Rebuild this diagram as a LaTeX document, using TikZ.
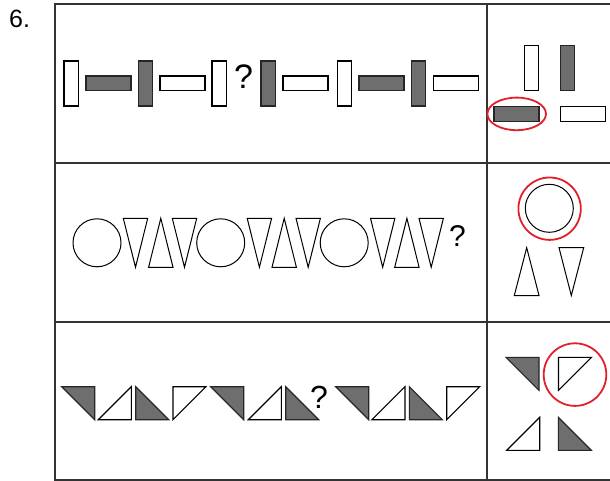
\documentclass[tikz,border=0pt]{standalone}
\usepackage{fontspec}
\setmainfont{Liberation Sans}
\definecolor{shade}{HTML}{6E6E6E}
\definecolor{mark}{HTML}{E3202A}
\tikzset{
  grid/.style={line width=1.3pt, draw=black!80},
  wbox/.style={draw=black, line width=1.1pt, fill=white},
  gbox/.style={draw=black!85, line width=1.1pt, fill=shade},
  outl/.style={draw=black, line width=1pt},
  ring/.style={draw=mark, line width=1.8pt},
  qm/.style={inner sep=0pt, anchor=center}
}
\begin{document}
\begin{tikzpicture}[x=1pt,y=-1pt]
\useasboundingbox (0,0) rectangle (610,481);
\fill[white] (0,0) rectangle (610,481);
% label
\node[anchor=base west, inner sep=0pt, font=\fontsize{25}{25}\selectfont] (num) at (9,28) {6.};
% table
\draw[grid] (612,4) -- (55,4) -- (55,480) -- (612,480);
\draw[grid] (55,163) -- (612,163);
\draw[grid] (55,322) -- (612,322);
\draw[grid] (487,4) -- (487,480);
% ---------- row 1 ----------
\def\V#1#2{\path[#2] (#1,61) rectangle ++(14.6,45);}
\def\H#1#2{\path[#2] (#1,76) rectangle ++(45,14.6);}
\V{64}{wbox} \H{86}{gbox} \V{138.3}{gbox} \H{160}{wbox} \V{212}{wbox}
\node[qm, font=\fontsize{34}{34}\selectfont] (q1) at (243.5,77) {?};
\V{261}{gbox} \H{283}{wbox} \V{337.3}{wbox} \H{359}{gbox} \V{411.3}{gbox} \H{433.3}{wbox}
% answers row 1
\path[wbox] (524.3,45.7) rectangle ++(14.6,45);
\path[gbox] (560.3,45.7) rectangle ++(14.6,45);
\path[gbox] (494,106.7) rectangle ++(45,14.6);
\path[wbox] (560.3,106.7) rectangle ++(45,14.6);
\draw[ring] (516.7,113.9) ellipse [x radius=29.3, y radius=16.3];
% ---------- row 2 ----------
\def\C#1{\draw[outl] (#1,242.8) circle [radius=24];}
\def\D#1{\draw[outl] (#1,218.3) -- ++(24.4,0) -- ++(-12.2,49) -- cycle;}
\def\U#1{\draw[outl] (#1,267.3) -- ++(24.4,0) -- ++(-12.2,-49) -- cycle;}
\C{97} \D{123.3} \U{148.6} \D{172.3}
\C{220.7} \D{247.2} \U{272} \D{296}
\C{344.2} \D{370.5} \U{394.7} \D{419}
\node[qm, font=\fontsize{30}{30}\selectfont] (q2) at (457.5,236.5) {?};
% answers row 2
\draw[outl] (549.3,208.3) circle [radius=24];
\draw[ring] (549.6,208.7) circle [radius=31.2];
\draw[outl] (514.3,295.5) -- (539,295.5) -- (526.7,247.7) -- cycle;
\draw[outl] (559,247.7) -- (583.7,247.7) -- (571.3,295.5) -- cycle;
% ---------- row 3 ----------
\def\TA#1#2{\path[gbox, line join=miter] (#1,#2) -- ++(33,0) -- ++(0,33) -- cycle;}
\def\TB#1#2{\path[wbox] (#1,#2+33) -- ++(33,0) -- ++(0,-33) -- cycle;}
\def\TC#1#2{\path[gbox] (#1,#2) -- ++(0,33) -- ++(33,0) -- cycle;}
\def\TD#1#2{\path[wbox] (#1,#2) -- ++(33,0) -- (#1,#2+33) -- cycle;}
\TA{61.7}{386.7} \TB{98.3}{386.7} \TC{135.7}{386.7} \TD{173}{386.7}
\TA{210.7}{386.7} \TB{248.3}{386.7} \TC{285.7}{386.7}
\node[qm, font=\fontsize{32}{32}\selectfont] (q3) at (319,397) {?};
\TA{335.7}{386.7} \TB{372}{386.7} \TC{409.3}{386.7} \TD{446.7}{386.7}
% answers row 3
\TA{506}{357.3} \TD{558.5}{357.3}
\TB{506.7}{417.3} \TC{558.3}{417.3}
\draw[ring] (575,374.6) circle [radius=31.3];
\end{tikzpicture}
\end{document}
